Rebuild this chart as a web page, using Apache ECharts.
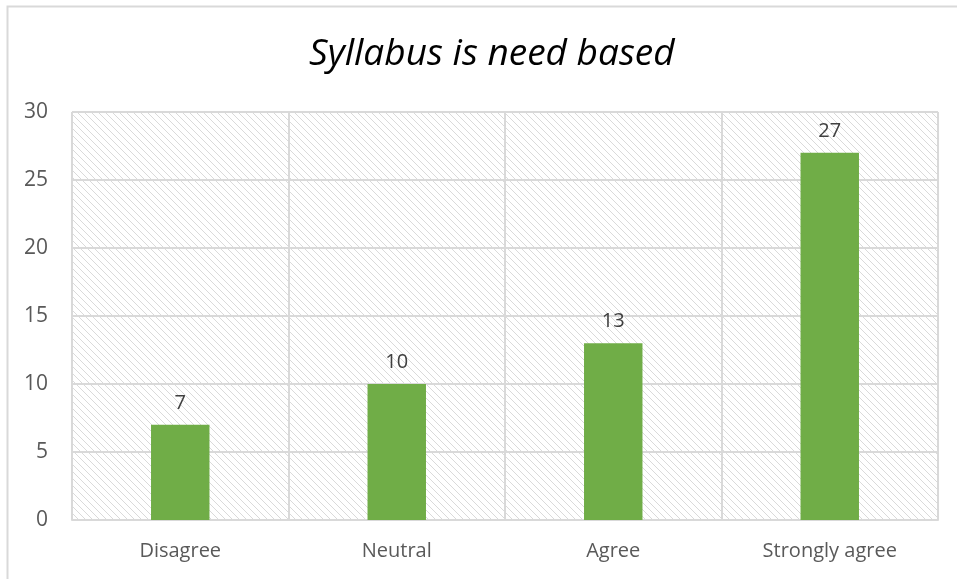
<!DOCTYPE html>
<html>
<head>
<meta charset="utf-8">
<script src="https://cdn.jsdelivr.net/npm/echarts@6/dist/echarts.min.js"></script>
<style>
  html, body { margin: 0; padding: 0; background: #fff; }
  #main { width: 957px; height: 579px; }
</style>
</head>
<body>
<div id="main"></div>
<script>
var categories = ['Disagree', 'Neutral', 'Agree', 'Strongly agree'];
var counts = [7, 10, 13, 27];
var titleText = 'Syllabus is need based';

// hatched plot background, like the Excel pattern fill
function makeHatch() {
  var s = 7;
  var c = document.createElement('canvas');
  c.width = s;
  c.height = s;
  var ctx = c.getContext('2d');
  ctx.fillStyle = '#ffffff';
  ctx.fillRect(0, 0, s, s);
  ctx.strokeStyle = '#dadada';
  ctx.lineWidth = 1;
  ctx.beginPath();
  ctx.moveTo(-1, -1); ctx.lineTo(s + 1, s + 1);
  ctx.moveTo(-1, s - 1); ctx.lineTo(1, s + 1);
  ctx.moveTo(s - 1, -1); ctx.lineTo(s + 1, 1);
  ctx.stroke();
  return c;
}

var chart = echarts.init(document.getElementById('main'));

var option = {
  backgroundColor: '#fff',
  title: {
    text: titleText,
    left: 304,
    top: 31,
    textStyle: {
      fontFamily: 'Open Sans',
      fontStyle: 'italic',
      fontWeight: 'normal',
      fontSize: 37,
      color: '#000'
    }
  },
  graphic: [{
    type: 'rect',
    shape: { x: 7.5, y: 6.5, width: 1000, height: 1000 },
    style: { fill: 'none', stroke: '#d9d9d9', lineWidth: 2 },
    silent: true
  }],
  grid: {
    left: 72,
    right: 19,
    top: 112,
    bottom: 59,
    show: true,
    borderWidth: 0,
    backgroundColor: { image: makeHatch(), repeat: 'repeat' }
  },
  xAxis: {
    type: 'category',
    data: categories,
    axisTick: { show: false },
    axisLine: { lineStyle: { color: '#d9d9d9', width: 2 } },
    axisLabel: {
      color: '#595959',
      fontSize: 20,
      fontFamily: 'Open Sans',
      margin: 21
    },
    splitLine: { show: true, lineStyle: { color: '#d9d9d9', width: 2 } }
  },
  yAxis: {
    type: 'value',
    min: 0,
    max: 30,
    interval: 5,
    axisLine: { show: false },
    axisTick: { show: false },
    axisLabel: {
      color: '#595959',
      fontSize: 21,
      fontFamily: 'Open Sans',
      margin: 24
    },
    splitLine: { lineStyle: { color: '#d9d9d9', width: 2 } }
  },
  series: [{
    type: 'bar',
    data: counts,
    barWidth: '27%',
    itemStyle: { color: '#70ad47' },
    label: {
      show: true,
      position: 'top',
      distance: 12,
      color: '#404040',
      fontSize: 20,
      fontFamily: 'Open Sans'
    }
  }]
};

chart.setOption(option);
</script>
</body>
</html>
